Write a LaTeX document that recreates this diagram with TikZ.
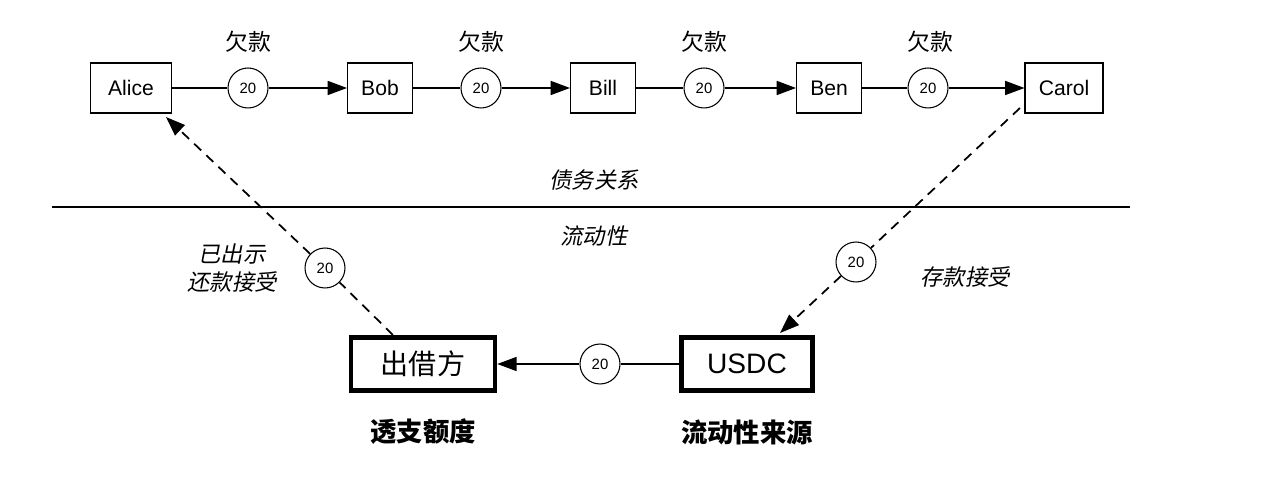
\documentclass[tikz,border=0pt]{standalone}
\usepackage{fontspec}
\setmainfont{Liberation Sans}
\newfontfamily\cjk{Noto Sans CJK SC}
\newfontfamily\cjkit{Noto Sans CJK SC}[FakeSlant=0.2]
\usetikzlibrary{arrows.meta, positioning}

\begin{document}
\begin{tikzpicture}[
  x=0.02cm, y=-0.02cm,
  >={Triangle[length=11pt, width=8pt]},
  party/.style={rectangle, draw, line width=0.6pt, minimum width=1.3cm, minimum height=1cm, font=\fontsize{12}{14}\selectfont},
  pool/.style={rectangle, draw, line width=2.6pt, minimum height=1.07cm, font=\fontsize{16}{18}\selectfont},
  amount/.style={circle, draw, fill=white, line width=0.6pt, minimum size=0.8cm, inner sep=0pt, font=\fontsize{8.5}{9}\selectfont},
  flow/.style={line width=0.8pt},
  back/.style={line width=1pt, dash pattern=on 5.5pt off 4pt},
  note/.style={font=\cjkit\fontsize{12.7}{16}\selectfont, align=center},
  debt/.style={font=\cjk\fontsize{13}{15}\selectfont},
  caption/.style={font=\cjk\bfseries\fontsize{15}{18}\selectfont}
]
  \useasboundingbox (0,0) rectangle (1272,486);

  % debtor chain
  \node[party, minimum width=1.62cm] (alice) at (131,88) {Alice};
  \node[party] (bob) at (380,88) {Bob};
  \node[party] (bill) at (603,88) {Bill};
  \node[party] (ben) at (829,88) {Ben};
  \node[party, minimum width=1.56cm] (carol) at (1064,88) {Carol};
  \node[amount] (c1) at (248,88) {20};
  \node[amount] (c2) at (481,88) {20};
  \node[amount] (c3) at (704,88) {20};
  \node[amount] (c4) at (928,88) {20};
  \node[debt] (d1) at (248,42) {欠款};
  \node[debt] (d2) at (481,42) {欠款};
  \node[debt] (d3) at (704,42) {欠款};
  \node[debt] (d4) at (930,42) {欠款};
  \draw[flow] (alice) -- (c1);
  \draw[flow, ->] (c1) -- (bob);
  \draw[flow] (bob) -- (c2);
  \draw[flow, ->] (c2) -- (bill);
  \draw[flow] (bill) -- (c3);
  \draw[flow, ->] (c3) -- (ben);
  \draw[flow] (ben) -- (c4);
  \draw[flow, ->] (c4) -- (carol);

  % divider
  \coordinate (divl) at (52,207);
  \coordinate (divr) at (1130,207);
  \draw[flow] (divl) -- (divr);
  \node[note] (upper) at (594,180) {债务关系};
  \node[note] (lower) at (594,236) {流动性};

  % liquidity side
  \node[pool, minimum width=2.88cm] (lender) at (423,364) {\cjk 出借方};
  \node[pool, minimum width=2.62cm] (usdc) at (747,364) {USDC};
  \node[amount] (c5) at (600,364) {20};
  \draw[flow] (usdc) -- (c5);
  \draw[flow, ->] (c5) -- (lender);
  \node[caption] (credit) at (423,432) {透支额度};
  \node[caption] (source) at (747,432) {流动性来源};

  % repayment and deposit
  \coordinate (lendtop) at (393,335);
  \coordinate (alicebot) at (166,117);
  \node[amount] (c6) at (325,268) {20};
  \draw[back] (lendtop) -- (c6);
  \draw[back, ->] (c6) -- (alicebot);
  \node[note] (repay) at (232,268) {已出示\\还款接受};

  \coordinate (carolbot) at (1020,108);
  \coordinate (usdctop) at (780,333);
  \node[amount] (c7) at (856,262) {20};
  \draw[back] (carolbot) -- (c7);
  \draw[back, ->] (c7) -- (usdctop);
  \node[note] (deposit) at (965,277) {存款接受};
\end{tikzpicture}
\end{document}
